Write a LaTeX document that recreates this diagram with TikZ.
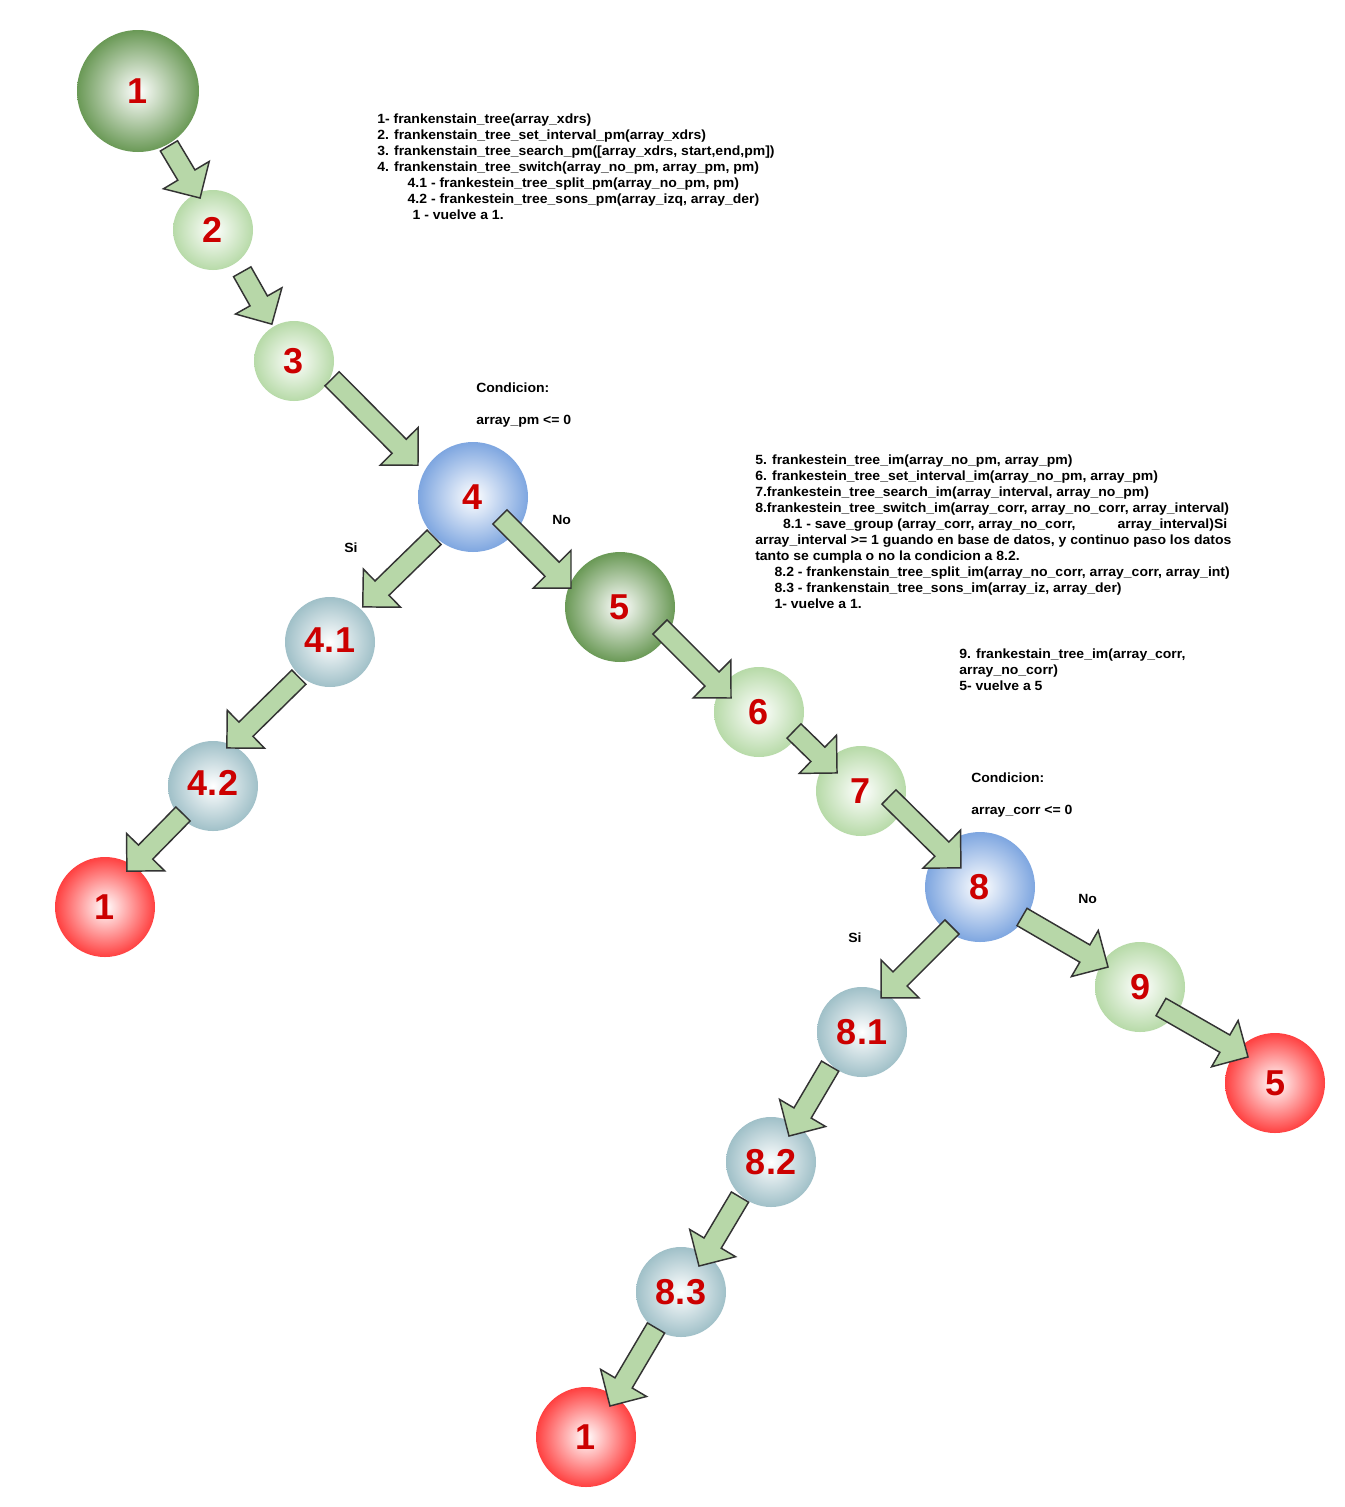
\documentclass[tikz,border=0pt]{standalone}
\usepackage{fontspec}
\setmainfont{Liberation Sans}
\newfontfamily\letraancha[FakeStretch=1.05]{Liberation Sans}
\usetikzlibrary{calc}
\definecolor{verdeosc}{RGB}{106,153,86}
\definecolor{verdecla}{RGB}{183,218,168}
\definecolor{azul}{RGB}{126,166,224}
\definecolor{gris}{RGB}{160,192,200}
\definecolor{rojo}{RGB}{255,64,64}
\definecolor{numero}{RGB}{204,0,0}
\definecolor{flechaverde}{RGB}{183,215,168}
\definecolor{borde}{RGB}{51,51,51}
% flecha gruesa: de #1 (cola) a #2 (punta)
\newcommand{\flecha}[2]{%
  \draw[flecha] let \p1=#1, \p2=#2, \n1={atan2(\y2-\y1,\x2-\x1)}, \n2={veclen(\x2-\x1,\y2-\y1)-20pt} in
    ($(\p1)+(\n1+90:7.5pt)$) -- ++(\n1:\n2) -- ++(\n1+90:12.5pt) -- (\p2)
    -- ($(\p1)+(\n1:\n2)+(\n1-90:20pt)$) -- ++(\n1+90:12.5pt)
    -- ($(\p1)+(\n1-90:7.5pt)$) -- cycle;}
\begin{document}
\begin{tikzpicture}[x=0.75pt,y=0.75pt,
  nodo/.style={circle,inner sep=0pt,minimum size=#1,inner color=white,text=numero,font=\fontsize{27}{27}\selectfont\bfseries},
  flecha/.style={draw=borde,fill=flechaverde,line width=1.1pt,line join=miter},
  texto/.style={anchor=north west,inner sep=0pt,align=left,font=\letraancha\fontsize{10}{12}\selectfont\bfseries},
  rama/.style={anchor=west,inner sep=0pt,font=\letraancha\fontsize{10}{12}\selectfont\bfseries}]
\path[use as bounding box,fill=white] (0,0) rectangle (1345,-1507);
% rama izquierda
\node[nodo=91.5pt,outer color=verdeosc] (n1) at (138,-91) {1};
\node[nodo=60pt,outer color=verdecla] (n2) at (213,-230) {2};
\node[nodo=60pt,outer color=verdecla] (n3) at (294,-361) {3};
\node[nodo=82.5pt,outer color=azul] (n4) at (473,-497) {4};
\node[nodo=67.5pt,outer color=gris] (n41) at (330,-642) {\raisebox{3pt}{4.1}};
\node[nodo=67.5pt,outer color=gris] (n42) at (213,-786) {\raisebox{5pt}{4.2}};
\node[nodo=75pt,outer color=rojo] (f1) at (105,-907) {1};
% rama derecha
\node[nodo=82.5pt,outer color=verdeosc] (n5) at (620,-607) {5};
\node[nodo=67.5pt,outer color=verdecla] (n6) at (759,-712) {6};
\node[nodo=67.5pt,outer color=verdecla] (n7) at (861,-791) {7};
\node[nodo=82.5pt,outer color=azul] (n8) at (980,-887) {8};
\node[nodo=67.5pt,outer color=verdecla] (n9) at (1140,-987) {9};
\node[nodo=75pt,outer color=rojo] (f3) at (1275,-1083) {5};
\node[nodo=67.5pt,outer color=gris] (n81) at (862,-1032) {8.1};
\node[nodo=67.5pt,outer color=gris] (n82) at (771,-1162) {8.2};
\node[nodo=67.5pt,outer color=gris] (n83) at (681,-1292) {8.3};
\node[nodo=75pt,outer color=rojo] (f2) at (586,-1437) {1};
% flechas
\flecha{($(n1)+(-60.6:63)$)}{($(n2)+(112:34.5)$)}
\flecha{($(n2)+(-55:51)$)}{($(n3)+(121:43)$)}
\flecha{($(n3)+(-25:42)$)}{($(n4)+(150:63.5)$)}
\flecha{($(n4)+(-134:56)$)}{($(n41)+(47:48)$)}
\flecha{($(n4)+(-36.5:33.5)$)}{($(n5)+(159:52.5)$)}
\flecha{($(n41)+(-131.5:47)$)}{($(n42)+(70:40.5)$)}
\flecha{($(n42)+(-137:41)$)}{($(f1)+(58.6:42)$)}
\flecha{($(n5)+(-26.6:44.7)$)}{($(n6)+(153.4:31.3)$)}
\flecha{($(n6)+(-28.5:39.8)$)}{($(n7)+(143:30)$)}
\flecha{($(n7)+(-12:28.6)$)}{($(n8)+(135:27)$)}
\flecha{($(n8)+(-125:48.8)$)}{($(n81)+(60.8:39)$)}
\flecha{($(n8)+(-35.5:51.6)$)}{($(n9)+(148:37.7)$)}
\flecha{($(n9)+(-43.6:29)$)}{($(f3)+(136:37.5)$)}
\flecha{($(n81)+(-133:46.7)$)}{($(n82)+(55.3:31.6)$)}
\flecha{($(n82)+(-131.5:46.8)$)}{($(n83)+(55.3:31.6)$)}
\flecha{($(n83)+(-124.8:43.8)$)}{($(f2)+(52.3:39.2)$)}
% textos
\node[texto] (pasos1) at (377,-114) {1- frankenstain\_tree(array\_xdrs)\\
2. frankenstain\_tree\_set\_interval\_pm(array\_xdrs)\\
3. frankenstain\_tree\_search\_pm([array\_xdrs, start,end,pm])\\
4. frankenstain\_tree\_switch(array\_no\_pm, array\_pm, pm)\\
\hspace*{22.8pt}4.1 - frankestein\_tree\_split\_pm(array\_no\_pm, pm)\\
\hspace*{22.8pt}4.2 - frankestein\_tree\_sons\_pm(array\_izq, array\_der)\\
\hspace*{26.5pt}1 - vuelve a 1.};
\node[texto] (cond1) at (476,-383) {Condicion:\\[12pt]array\_pm <= 0};
\node[rama] (si1) at (344,-548) {Si};
\node[rama] (no1) at (552,-520) {No};
\node[texto] (pasos2) at (755,-455) {5. frankestein\_tree\_im(array\_no\_pm, array\_pm)\\
6. frankestein\_tree\_set\_interval\_im(array\_no\_pm, array\_pm)\\
7.frankestein\_tree\_search\_im(array\_interval, array\_no\_pm)\\
8.frankestein\_tree\_switch\_im(array\_corr, array\_no\_corr, array\_interval)\\
\hspace*{20.8pt}8.1 - save\_group (array\_corr, array\_no\_corr,\hspace{31.5pt}array\_interval)Si\\
array\_interval >= 1 guando en base de datos, y continuo paso los datos\\
tanto se cumpla o no la condicion a 8.2.\\
\hspace*{14.5pt}8.2 - frankenstain\_tree\_split\_im(array\_no\_corr, array\_corr, array\_int)\\
\hspace*{14.5pt}8.3 - frankenstain\_tree\_sons\_im(array\_iz, array\_der)\\
\hspace*{14.5pt}1- vuelve a 1.};
\node[texto] (pasos3) at (959,-649) {9. frankestain\_tree\_im(array\_corr,\\
array\_no\_corr)\\
5- vuelve a 5};
\node[texto] (cond2) at (971,-773) {Condicion:\\[12pt]array\_corr <= 0};
\node[rama] (si2) at (848,-938) {Si};
\node[rama] (no2) at (1078,-899) {No};
\end{tikzpicture}
\end{document}
